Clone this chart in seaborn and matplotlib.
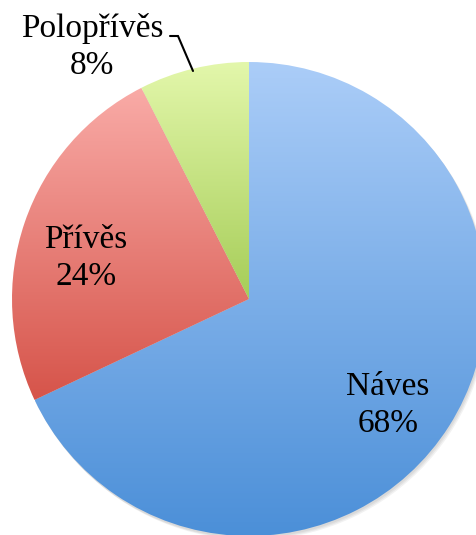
import numpy as np
import matplotlib
matplotlib.use("Agg")
import matplotlib.pyplot as plt
import seaborn as sns
from matplotlib.colors import LinearSegmentedColormap

categories = ["Náves", "Přívěs", "Polopřívěs"]
values = [68, 24.5, 7.5]
pct_labels = ["68%", "24%", "8%"]
top_colors = ["#abcdf8", "#f9aba7", "#e3f7ab"]
bottom_colors = ["#4b8fd8", "#d6544a", "#a6cd58"]

sns.set_theme(style="white")
plt.rcParams['font.family'] = ['Liberation Serif', 'DejaVu Serif']

W, H = 477, 535
fig = plt.figure(figsize=(W / 100, H / 100), dpi=100)
ax = fig.add_axes([0, 0, 1, 1])

cx, cy, r = 249, H - 299, 237

# soft shadow
for i in range(3):
    sh = plt.Circle((cx + 1 + i, cy - 2 - i), r, color="black", alpha=0.05, lw=0, zorder=0)
    ax.add_patch(sh)

wedges, _ = ax.pie(values, startangle=90, counterclock=False, center=(cx, cy),
                   radius=r, frame=True, wedgeprops=dict(lw=0))

grad = np.linspace(0, 1, 256).reshape(-1, 1)
for w, tc, bc in zip(wedges, top_colors, bottom_colors):
    w.set_facecolor("none")
    verts = w.get_path().vertices
    x0, x1 = verts[:, 0].min(), verts[:, 0].max()
    y0, y1 = verts[:, 1].min(), verts[:, 1].max()
    cmap = LinearSegmentedColormap.from_list("g", [bc, tc])
    im = ax.imshow(grad, cmap=cmap, extent=(x0, x1, y0, y1), origin="lower",
                   aspect="auto", zorder=1, interpolation="bilinear")
    im.set_clip_path(w)

ax.set_xlim(0, W)
ax.set_ylim(0, H)
ax.set_aspect("auto")
ax.axis("off")

fs = 24
kw = dict(ha="center", va="center", fontsize=fs, linespacing=1.28, color="black", zorder=3)
ax.text(388, H - 405, f"{categories[0]}\n{pct_labels[0]}", **kw)
ax.text(86, H - 258, f"{categories[1]}\n{pct_labels[1]}", **kw)
ax.text(92, H - 47, f"{categories[2]}\n{pct_labels[2]}", **kw)
ax.plot([170, 178, 193], [H - 36, H - 36, H - 71], color="black", lw=1.5,
        solid_joinstyle="miter", zorder=3)

fig.savefig("out.png", dpi=100)
